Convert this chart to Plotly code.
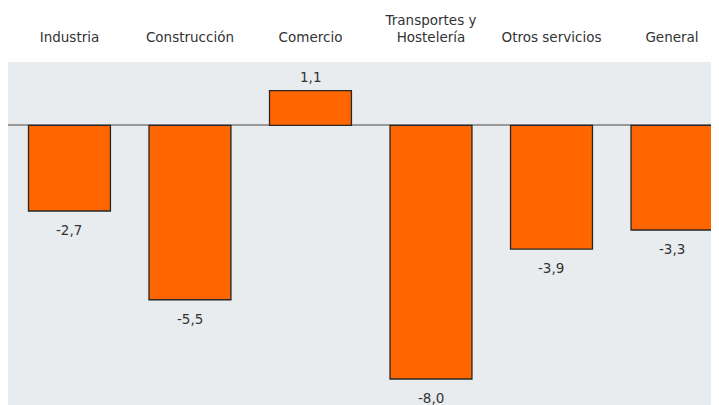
import plotly.graph_objects as go

categories = ["Industria", "Construcción", "Comercio", "Transportes y<br>Hostelería", "Otros servicios", "General"]
values = [-2.7, -5.5, 1.1, -8.0, -3.9, -3.3]
value_labels = ["-2,7", "-5,5", "1,1", "-8,0", "-3,9", "-3,3"]

fig = go.Figure()
fig.add_trace(go.Bar(
    x=categories, y=values,
    marker=dict(color="#ff6600", line=dict(color="#262626", width=1.3)),
    width=0.68,
))
for c, v, t in zip(categories, values, value_labels):
    fig.add_annotation(
        x=c, y=v, text=t, showarrow=False,
        yanchor="bottom" if v >= 0 else "top",
        yshift=4 if v >= 0 else -9,
        font=dict(family="DejaVu Sans", size=13.5, color="#333333"),
    )
fig.update_layout(
    width=711, height=397,
    margin=dict(l=0, r=0, t=54, b=0, autoexpand=False),
    paper_bgcolor="white", plot_bgcolor="#e9ecef",
    separators=",.",
    showlegend=False,
    xaxis=dict(side="top", range=[-0.51, 5.39], showgrid=False, showline=False, ticks="",
               ticklabelstandoff=16,
               tickfont=dict(family="DejaVu Sans", size=13.5, color="#333333")),
    yaxis=dict(range=[-8.82, 2.0], showgrid=False, showticklabels=False, zeroline=True,
               zerolinecolor="#999999", zerolinewidth=1.5),
)
fig.write_html("out.html")
